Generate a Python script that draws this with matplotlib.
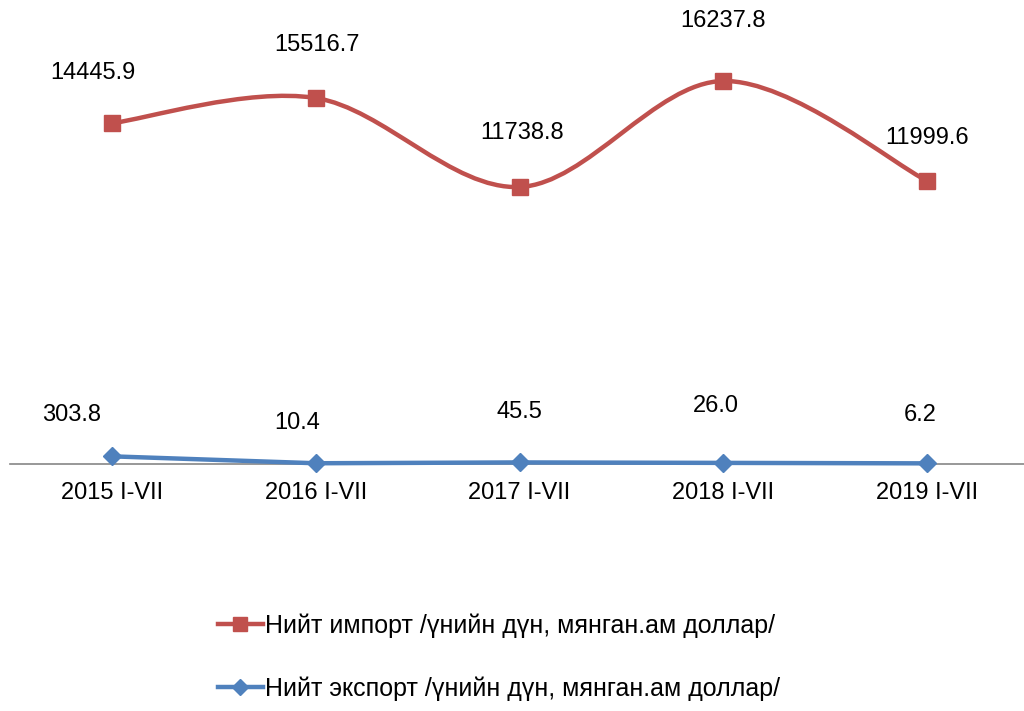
import matplotlib
matplotlib.use("Agg")
import matplotlib.pyplot as plt
import numpy as np
from matplotlib.path import Path
from matplotlib.patches import PathPatch
from matplotlib.lines import Line2D

plt.rcParams['font.family'] = ['Liberation Sans', 'DejaVu Sans']

categories = ["2015 I-VII", "2016 I-VII", "2017 I-VII", "2018 I-VII", "2019 I-VII"]
imports = [14445.9, 15516.7, 11738.8, 16237.8, 11999.6]
exports = [303.8, 10.4, 45.5, 26.0, 6.2]
import_label = "Нийт импорт /үнийн дүн, мянган.ам доллар/"
export_label = "Нийт экспорт /үнийн дүн, мянган.ам доллар/"

red = "#C0504D"
blue = "#4F81BD"
fs = 17

# label offsets in points (dx, dy) relative to each marker
imp_offsets = [(-14, 36), (1, 38), (2, 39), (0, 43), (0, 31)]
exp_offsets = [(-29, 30), (-13, 29), (0, 36), (-5, 41), (-5, 35)]


def smooth_path(xs, ys):
    # cubic bezier through the points, Catmull-Rom style tangents
    pts = np.column_stack([xs, ys]).astype(float)
    n = len(pts)
    verts = [pts[0]]
    codes = [Path.MOVETO]
    for i in range(n - 1):
        p0 = pts[max(i - 1, 0)]
        p1 = pts[i]
        p2 = pts[i + 1]
        p3 = pts[min(i + 2, n - 1)]
        c1 = p1 + (p2 - p0) / 6.0
        c2 = p2 - (p3 - p1) / 6.0
        verts += [c1, c2, p2]
        codes += [Path.CURVE4] * 3
    return Path(verts, codes)


fig = plt.figure(figsize=(10.24, 7.11), dpi=100)
ax = fig.add_axes([10 / 1024, 247.5 / 711, 1019 / 1024, 424 / 711])
x = np.arange(len(categories))
ax.set_xlim(-0.5, 4.5)
ax.set_ylim(0, 18000)

ax.add_patch(PathPatch(smooth_path(x, imports), fill=False, edgecolor=red,
                       lw=3.2, capstyle='round', zorder=3))
ax.plot(x, imports, ls='none', marker='s', ms=11.5, color=red, zorder=4, clip_on=False)
ax.plot(x, exports, color=blue, lw=3.2, marker='D', ms=9.5, zorder=4, clip_on=False)

for xi, v, off in zip(x, imports, imp_offsets):
    ax.annotate(f"{v:.1f}", (xi, v), xytext=off, textcoords='offset points',
                ha='center', va='center', fontsize=fs)
for xi, v, off in zip(x, exports, exp_offsets):
    ax.annotate(f"{v:.1f}", (xi, v), xytext=off, textcoords='offset points',
                ha='center', va='center', fontsize=fs)

for s in ['top', 'right', 'left']:
    ax.spines[s].set_visible(False)
ax.spines['bottom'].set_color('#868686')
ax.spines['bottom'].set_linewidth(1.2)
ax.set_yticks([])
ax.set_xticks(x)
ax.set_xticklabels(categories, fontsize=fs)
ax.tick_params(axis='x', length=0, pad=13)

handles = [Line2D([], [], color=red, lw=3.2, marker='s', ms=10),
           Line2D([], [], color=blue, lw=3.2, marker='D', ms=8.5)]
fig.legend(handles, [import_label, export_label], loc='center',
           bbox_to_anchor=(499 / 1024, 1 - 657 / 711), frameon=False,
           fontsize=18, handlelength=1.8, handletextpad=0.1,
           labelspacing=1.55)

fig.savefig("out.png", dpi=100)
